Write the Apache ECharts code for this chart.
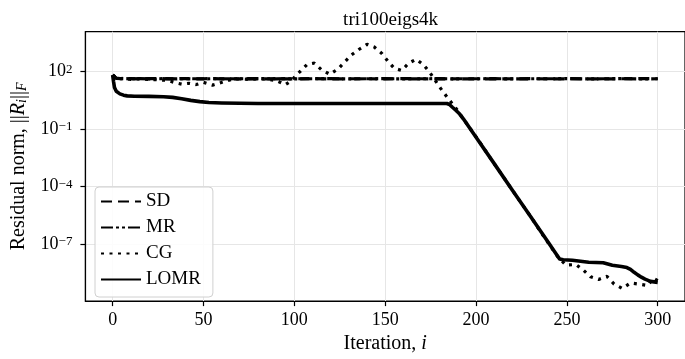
<!DOCTYPE html>
<html>
<head>
<meta charset="utf-8">
<script src="https://cdn.jsdelivr.net/npm/echarts@6/dist/echarts.min.js"></script>
<style>html,body{margin:0;padding:0;background:#fff}#c{width:685px;height:359px}</style>
</head>
<body>
<div id="c"></div>
<script>
const titleText = 'tri100eigs4k';
const seriesNames = ['SD', 'MR', 'CG', 'LOMR'];
const xTicks = [0, 50, 100, 150, 200, 250, 300];
const yTickExps = [-7, -4, -1, 2];

const sdIter = [0,2,5,10,15,20,25,30,35,40,45,50,55,60,65,70,75,80,85,90,95,100,110,120,130,140,150,160,170,180,190,200,210,220,230,240,250,260,270,280,290,300];
const sdVal  = [68,46,43,44,42,43.5,44,42.5,43,44,42,43,44,42.5,43,42,44,43,42.5,43.5,42,43,43.5,42.5,43,43,42.5,43.5,43,42.5,43,43,42.5,43,43.5,42.5,43,43,42.5,43,43.5,43];

const mrIter = [0,2,5,10,15,20,25,30,35,40,45,50,55,60,65,70,75,80,85,90,95,100,110,120,130,140,150,160,170,180,190,200,210,220,230,240,250,260,270,280,290,300];
const mrVal  = [68,45,44,42.5,44,42,43,44,42,43.5,43,42,43.5,43,42,43.5,42.5,44,43,42,43.5,42.5,43,43.5,42.5,43,43.5,42.5,43,43.5,42.5,43,43.5,42.5,43,43,43.5,42.5,43,43.5,42.5,43];

const cgIter = [0,3,6,10,15,20,25,30,35,38,42,46,50,55,58,62,66,70,75,80,85,90,95,98,103,107,111,115,119.5,124,128,131.5,135.5,140,144,148,151.5,155,159,163,167,171,174.5,177.5,180.5,183.5,187,190,193,200,210,220,230,238,245,249.5,255,259,263,267.5,272,276,280.5,285,289.5,294.5,297.5,300];
const cgVal  = [68,42,46,40,44,40,38,35.5,26,22.4,25,21.4,28,20,24,32,40,42,40,43,40,35.5,21,32,100,240,282,126,74,138,347,759,1445,2690,1950,933,355,151,117,282,447,234,93,35.5,13.5,5.6,2.1,0.91,0.35,0.04,1.6e-3,6.6e-5,2.8e-6,2.0e-7,2.2e-8,8.1e-9,8.7e-9,4.5e-9,2.0e-9,1.45e-9,2.1e-9,8.3e-10,4.9e-10,9.5e-10,8.3e-10,6.9e-10,1.7e-9,1.26e-9];

const lomrIter = [0,0.5,1,2,3,4,6,8,12,20,28,33,38,43,48,53,60,70,80,100,130,160,184,185.5,187,189,191,193,200,210,220,230,240,244,246,248,253,262,270,275,280,283,285,287,289,291,293,296,300];
const lomrVal  = [68,30,15,9.5,7.8,7.0,6.0,5.5,5.3,5.2,5.0,4.6,3.9,3.2,2.75,2.5,2.35,2.25,2.2,2.2,2.2,2.2,2.2,1.9,1.4,0.95,0.62,0.35,0.038,1.6e-3,6.6e-5,2.8e-6,1.15e-7,3.2e-8,1.7e-8,1.55e-8,1.45e-8,1.15e-8,1.07e-8,7.9e-9,6.8e-9,6.0e-9,4.8e-9,3.4e-9,2.5e-9,1.9e-9,1.5e-9,1.15e-9,1.02e-9];

const FONT = 'Liberation Serif';
function toPairs(xs, vs) { return xs.map((x, i) => [x, Math.log10(vs[i])]); }
function supLabel(v) {
  const e = v < 0 ? '\u2212' + Math.abs(v) : String(v);
  return '{b|10}{s|' + e + '}';
}

const chart = echarts.init(document.getElementById('c'), null, {renderer: 'canvas'});
const lineCommon = {type: 'line', symbol: 'none', showSymbol: false, animation: false, itemStyle: {color: '#000'}};
chart.setOption({
  animation: false,
  backgroundColor: '#fff',
  color: ['#000', '#000', '#000', '#000'],
  title: {
    text: titleText, left: 385.6, top: 6, textAlign: 'center',
    textStyle: {fontFamily: FONT, fontWeight: 'normal', fontSize: 19, color: '#000'}
  },
  grid: {left: 85.4, top: 31.7, right: -0.8, bottom: 51.5, show: true, borderColor: '#000', borderWidth: 1.2, containLabel: false},
  legend: {
    orient: 'vertical', left: 95, top: 187,
    data: seriesNames,
    itemWidth: 40, itemHeight: 14, itemGap: 7, itemTextGap: 18,
    padding: [5, 12, 8, 5],
    itemStyle: {opacity: 0},
    backgroundColor: 'rgba(255,255,255,0.85)',
    borderColor: '#d0d0d0', borderWidth: 1, borderRadius: 4,
    textStyle: {fontFamily: FONT, fontSize: 19, color: '#000'}
  },
  xAxis: {
    type: 'value', min: -15, max: 315,
    name: 'Iteration, {it|i}', nameLocation: 'middle', nameGap: 31,
    nameTextStyle: {fontFamily: FONT, fontSize: 20, color: '#000', rich: {it: {fontFamily: FONT, fontSize: 20, fontStyle: 'italic', color: '#000'}}},
    axisLine: {show: true, onZero: false, lineStyle: {color: '#000', width: 1.2}},
    axisTick: {show: true, length: 5, customValues: xTicks, lineStyle: {color: '#000', width: 1.2}},
    axisLabel: {customValues: xTicks, margin: 10, fontFamily: FONT, fontSize: 18, color: '#000'},
    splitLine: {show: true, lineStyle: {color: '#e6e6e6', width: 1}}
  },
  yAxis: {
    type: 'value', min: -9.97, max: 4.09,
    name: 'Residual norm, ||{it|R}{sub|i}||{sub|F}', nameLocation: 'middle', nameGap: 56, nameRotate: 90,
    nameTextStyle: {fontFamily: FONT, fontSize: 20, color: '#000', rich: {
      it: {fontFamily: FONT, fontSize: 20, fontStyle: 'italic', color: '#000'},
      sub: {fontFamily: FONT, fontSize: 14, fontStyle: 'italic', color: '#000', verticalAlign: 'bottom', padding: [8, 0, 0, 0]}
    }},
    axisLine: {show: true, onZero: false, lineStyle: {color: '#000', width: 1.2}},
    axisTick: {show: true, length: 5, customValues: yTickExps, lineStyle: {color: '#000', width: 1.2}},
    axisLabel: {customValues: yTickExps, margin: 13, formatter: supLabel, rich: {
      b: {fontFamily: FONT, fontSize: 18, lineHeight: 18, color: '#000', verticalAlign: 'middle'},
      s: {fontFamily: FONT, fontSize: 13, lineHeight: 13, color: '#000', verticalAlign: 'top', padding: [0, 0, 10, 0]}
    }},
    splitLine: {show: true, lineStyle: {color: '#e6e6e6', width: 1}}
  },
  series: [
    Object.assign({}, lineCommon, {name: 'SD', data: toPairs(sdIter, sdVal), z: 2,
      lineStyle: {color: '#000', width: 3.2, type: [11, 6]}}),
    Object.assign({}, lineCommon, {name: 'MR', data: toPairs(mrIter, mrVal), z: 3,
      lineStyle: {color: '#000', width: 3.2, type: [12, 3, 3, 3, 3, 3]}}),
    Object.assign({}, lineCommon, {name: 'CG', data: toPairs(cgIter, cgVal), z: 4,
      lineStyle: {color: '#000', width: 3.2, type: [3, 5.5]}}),
    Object.assign({}, lineCommon, {name: 'LOMR', data: toPairs(lomrIter, lomrVal), z: 5,
      lineStyle: {color: '#000', width: 3.6, type: 'solid', join: 'round'}})
  ]
});
</script>
</body>
</html>
